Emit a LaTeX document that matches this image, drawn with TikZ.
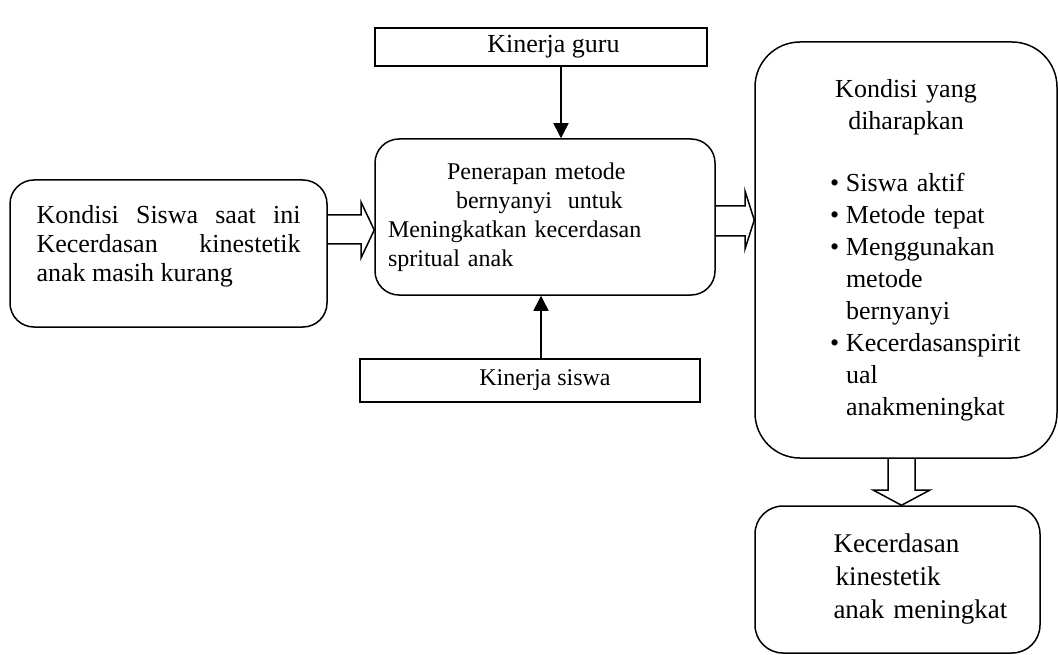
\documentclass[tikz,border=0pt]{standalone}
\usepackage{fontspec}
\setmainfont{Liberation Serif}
\usetikzlibrary{arrows.meta,positioning,calc}
\tikzset{
  rbox/.style={rectangle,rounded corners=#1,draw=black,line width=1.5pt,inner sep=0pt},
  rbox/.default={24pt},
  sbox/.style={rectangle,draw=black,line width=1.5pt,inner sep=0pt},
  arr/.style={-{Triangle[length=15pt,width=15pt]},line width=1.5pt},
  hollow/.style={draw=black,line width=1.5pt,line join=miter},
  body/.style={font=\fontsize{24}{29}\selectfont},
  midbody/.style={font=\fontsize{26}{29}\selectfont},
  bigbody/.style={font=\fontsize{26}{32}\selectfont},
}
\begin{document}
\begin{tikzpicture}[x=1pt,y=-1pt]
  \useasboundingbox (0,0) rectangle (1058,655);
  % boxes
  \node[sbox,midbody,minimum width=332pt,minimum height=38pt] (guru) at (541,47) {\hspace*{25pt}Kinerja guru};
  \node[rbox,body,minimum width=340pt,minimum height=156pt,text width=314pt,align=left] (metode) at (545,217) {
    \hspace*{59pt}Penerapan metode\newline
    \hspace*{68pt}bernyanyi\ \ untuk\newline
    Meningkatkan kecerdasan\newline
    spritual anak};
  \node[rbox,midbody,minimum width=317pt,minimum height=147pt,text width=264pt,align=justify,
    text height=20pt,text depth=79pt] (kondisi) at (168.5,253.5) {
    Kondisi Siswa saat ini\linebreak Kecerdasan kinestetik\linebreak anak masih kurang};
  \node[sbox,body,minimum width=340pt,minimum height=43pt] (siswa) at (530,380.5) {\hspace*{30pt}Kinerja siswa};
  \node[rbox=45pt,bigbody,minimum width=302pt,minimum height=416pt,text width=234pt,align=left] (harapan) at (906,250) {
    {\centering Kondisi yang\\diharapkan\par}\vspace{30pt}
    \leftskip=41pt
    \hangindent=16pt\hangafter=1\makebox[16pt][l]{\textbullet}Siswa aktif\par
    \hangindent=16pt\hangafter=1\makebox[16pt][l]{\textbullet}Metode tepat\par
    \hangindent=16pt\hangafter=1\makebox[16pt][l]{\textbullet}Menggunakan\newline metode\newline bernyanyi\par
    \hangindent=16pt\hangafter=1\makebox[16pt][l]{\textbullet}Kecerdasanspirit\newline ual\newline anakmeningkat\par};
  \node[rbox=28pt,font=\fontsize{27}{33}\selectfont,minimum width=285pt,minimum height=147pt,text width=240pt,align=left] (hasil) at (897.5,579.5) {
    \hspace*{56pt}Kecerdasan\newline
    \hspace*{58pt}kinestetik\newline
    \hspace*{56pt}anak meningkat};
  % connectors
  \draw[arr] (guru.south -| 561,0) -- (metode.north -| 561,0);
  \draw[arr] (siswa.north -| 541,0) -- (metode.south -| 541,0);
  \draw[hollow] (kondisi.east |- 0,215) -- (361,215) -- (361,202) -- (metode.west |- 0,230)
    -- (361,258) -- (361,244) -- (kondisi.east |- 0,244);
  \draw[hollow] (metode.east |- 0,206) -- (745,206) -- (745,191) -- (harapan.west |- 0,220)
    -- (745,249) -- (745,236) -- (metode.east |- 0,236);
  \draw[hollow] (888,0 |- harapan.south) -- (888,490) -- (873,490) -- (901.5,0 |- hasil.north)
    -- (930,490) -- (915,490) -- (915,0 |- harapan.south);
\end{tikzpicture}
\end{document}
